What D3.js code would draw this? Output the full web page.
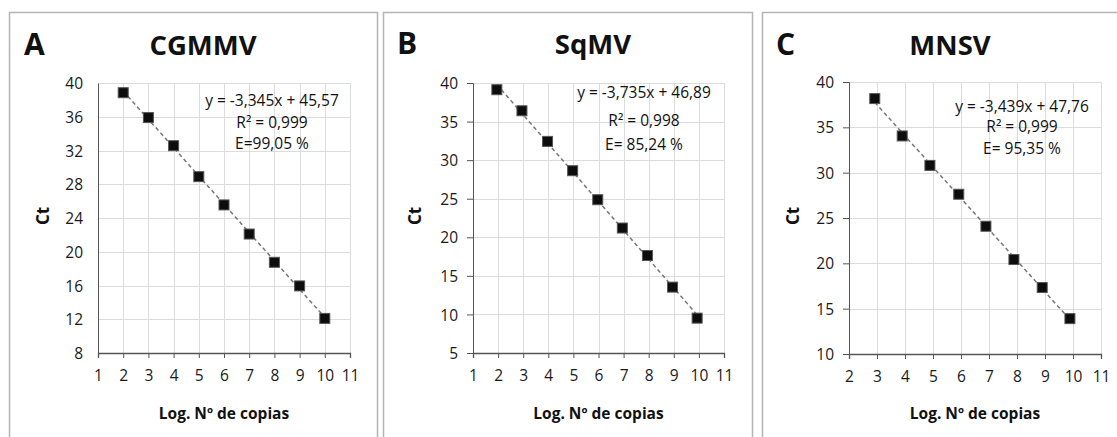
<!DOCTYPE html>
<html>
<head>
<meta charset="utf-8">
<script src="https://cdn.jsdelivr.net/npm/d3@7"></script>
<style>
  body { margin: 0; background: #fff; font-family: "Open Sans", sans-serif; }
  .grid line { stroke: #dcdcdc; stroke-width: 1; }
  .axis path, .axis line { stroke: #555; }
  .axis text { font-family: "Open Sans", sans-serif; font-size: 15.5px; fill: #1a1a1a; }
</style>
</head>
<body>
<script>
// ---- data ----
var panelLetters = ["A", "B", "C"];
var virusNames = ["CGMMV", "SqMV", "MNSV"];

var xA = [2, 3, 4, 5, 6, 7, 8, 9, 10];
var ctA = [38.85, 35.9, 32.57, 28.9, 25.55, 22.1, 18.75, 15.95, 12.1];

var xB = [1.95, 2.95, 3.97, 4.97, 5.97, 6.95, 7.95, 8.95, 9.93];
var ctB = [39.13, 36.4, 32.43, 28.63, 24.87, 21.2, 17.64, 13.54, 9.52];

var xC = [2.92, 3.9, 4.89, 5.92, 6.89, 7.89, 8.9, 9.89];
var ctC = [38.17, 34.05, 30.8, 27.62, 24.09, 20.42, 17.33, 13.9];

var eqLabels = [
  ["y = -3,345x + 45,57", "R² = 0,999", "E=99,05 %"],
  ["y = -3,735x + 46,89", "R² = 0,998", "E= 85,24 %"],
  ["y = -3,439x + 47,76", "R² = 0,999", "E= 95,35 %"]
];

var xDomains = [[1, 11], [1, 11], [2, 11]];
var yDomains = [[8, 40], [5, 40], [10, 40]];
var yTickVals = [d3.range(8, 41, 4), d3.range(5, 41, 5), d3.range(10, 41, 5)];

// ---- layout ----
var W = 1117, H = 437;
var panels = [
  { x0: 9,   x1: 377,  plotL: 98,  plotR: 350,  plotT: 83, plotB: 353, titleX: 203, titleY: 55, letterX: 24,  eqX: 272,  eqY: [106, 128, 149], ctX: 43,  leftDark: false },
  { x0: 383, x1: 752,  plotL: 473, plotR: 724,  plotT: 83, plotB: 353, titleX: 593, titleY: 54, letterX: 397, eqX: 644,  eqY: [98, 126, 150],  ctX: 415, leftDark: true },
  { x0: 762, x1: 1125, plotL: 849, plotR: 1101, plotT: 82, plotB: 354, titleX: 950, titleY: 55, letterX: 776, eqX: 1022, eqY: [112, 132, 154], ctX: 793, leftDark: true }
];
var xsAll = [xA, xB, xC], ysAll = [ctA, ctB, ctC];

var svg = d3.select("body").append("svg")
  .attr("width", W).attr("height", H);

// least squares fit for the trend line
function fit(xs, ys) {
  var mx = d3.mean(xs), my = d3.mean(ys);
  var num = 0, den = 0;
  for (var i = 0; i < xs.length; i++) {
    num += (xs[i] - mx) * (ys[i] - my);
    den += (xs[i] - mx) * (xs[i] - mx);
  }
  var m = num / den;
  return { m: m, b: my - m * mx };
}

panels.forEach(function(p, k) {
  var g = svg.append("g");

  // panel frame
  g.append("rect")
    .attr("x", p.x0 + 0.5).attr("y", 12.5)
    .attr("width", p.x1 - p.x0).attr("height", H + 20)
    .attr("fill", "#fff").attr("stroke", "#b4b4b4").attr("stroke-width", 1.5);

  var x = d3.scaleLinear().domain(xDomains[k]).range([p.plotL, p.plotR]);
  var y = d3.scaleLinear().domain(yDomains[k]).range([p.plotB, p.plotT]);
  var xTicks = d3.range(xDomains[k][0], xDomains[k][1] + 1);

  // gridlines
  g.append("g").attr("class", "grid")
    .selectAll("line.v").data(xTicks.slice(1)).enter().append("line")
    .attr("x1", function(d) { return Math.round(x(d)) + 0.5; })
    .attr("x2", function(d) { return Math.round(x(d)) + 0.5; })
    .attr("y1", p.plotT).attr("y2", p.plotB);
  g.append("g").attr("class", "grid")
    .selectAll("line.h").data(yTickVals[k].slice(1)).enter().append("line")
    .attr("x1", p.plotL).attr("x2", p.plotR)
    .attr("y1", function(d) { return Math.round(y(d)) + 0.5; })
    .attr("y2", function(d) { return Math.round(y(d)) + 0.5; });

  // axes
  var xAxis = g.append("g").attr("class", "axis")
    .attr("transform", "translate(0," + p.plotB + ")")
    .call(d3.axisBottom(x).tickValues(xTicks).tickSize(5).tickSizeOuter(5).tickPadding(12));
  xAxis.select(".domain").attr("stroke-width", 1.3);

  var yAxis = g.append("g").attr("class", "axis")
    .attr("transform", "translate(" + p.plotL + ",0)")
    .call(d3.axisLeft(y).tickValues(yTickVals[k])
      .tickSize(p.leftDark ? 6 : 0).tickSizeOuter(p.leftDark ? 6 : 0)
      .tickPadding(p.leftDark ? 9 : 15));
  if (!p.leftDark) {
    yAxis.select(".domain").attr("stroke", "#dcdcdc");
  }
  yAxis.selectAll(".tick text").attr("dy", "0.36em");

  // trend line
  var f = fit(xsAll[k], ysAll[k]);
  var xmin = d3.min(xsAll[k]), xmax = d3.max(xsAll[k]);
  g.append("line")
    .attr("x1", x(xmin)).attr("y1", y(f.m * xmin + f.b))
    .attr("x2", x(xmax)).attr("y2", y(f.m * xmax + f.b))
    .attr("stroke", "#777").attr("stroke-width", 1.5)
    .attr("stroke-dasharray", "4,3");

  // markers
  var pts = xsAll[k].map(function(v, i) { return [v, ysAll[k][i]]; });
  g.selectAll("rect.pt").data(pts).enter().append("rect")
    .attr("x", function(d) { return x(d[0]) - 5; })
    .attr("y", function(d) { return y(d[1]) - 5; })
    .attr("width", 10).attr("height", 10)
    .attr("fill", "#0d0d0d").attr("stroke", "#555").attr("stroke-width", 1);

  // equation text
  eqLabels[k].forEach(function(t, i) {
    g.append("text")
      .attr("x", p.eqX).attr("y", p.eqY[i])
      .attr("text-anchor", "middle")
      .style("font-size", "15.5px").style("fill", "#111")
      .text(t);
  });

  // titles
  g.append("text")
    .attr("x", p.letterX).attr("y", p.titleY)
    .style("font-size", "30px").style("font-weight", "bold").style("fill", "#111")
    .text(panelLetters[k]);
  g.append("text")
    .attr("x", p.titleX).attr("y", p.titleY)
    .attr("text-anchor", "middle")
    .style("font-size", "27.5px").style("font-weight", "bold").style("fill", "#111")
    .text(virusNames[k]);

  // axis titles
  g.append("text")
    .attr("x", (p.plotL + p.plotR) / 2).attr("y", 419)
    .attr("text-anchor", "middle")
    .style("font-size", "15.5px").style("font-weight", "bold").style("fill", "#111")
    .text("Log. Nº de copias");
  g.append("text")
    .attr("transform", "translate(" + (p.ctX + 6) + ",216) rotate(-90)")
    .attr("text-anchor", "middle")
    .style("font-size", "17px").style("font-weight", "bold").style("fill", "#111")
    .text("Ct");
});
</script>
</body>
</html>
